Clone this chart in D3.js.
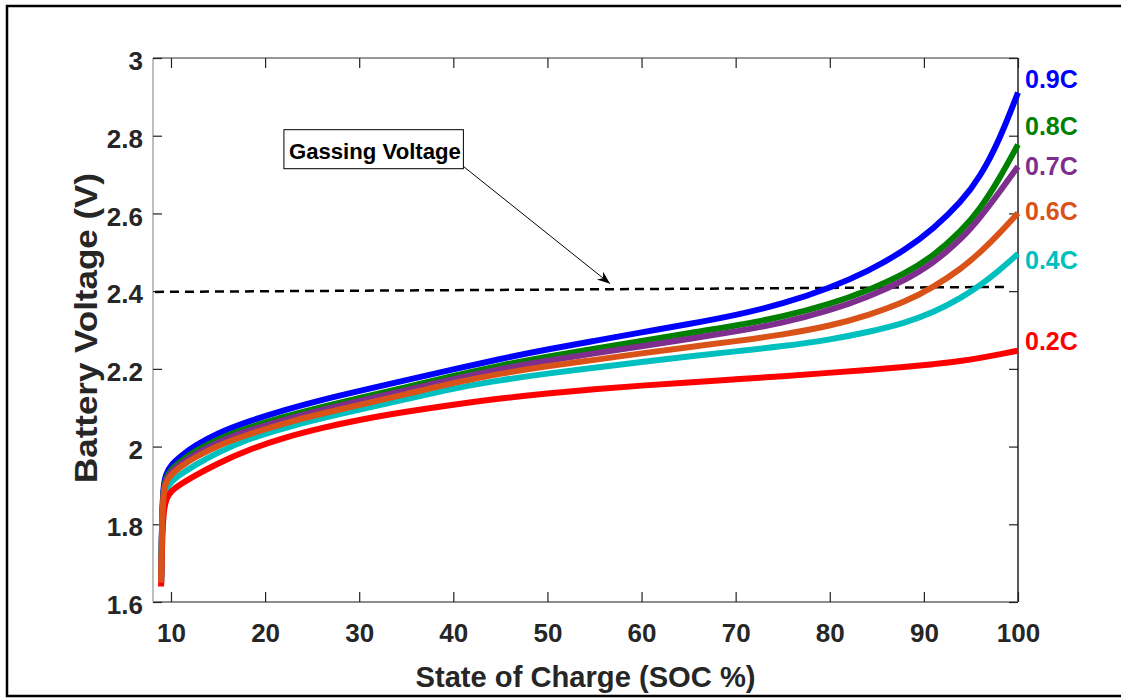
<!DOCTYPE html>
<html>
<head>
<meta charset="utf-8">
<script src="https://cdn.jsdelivr.net/npm/d3@7"></script>
<style>
  body { margin: 0; background: #fff; }
  svg text { font-family: "Liberation Sans", Arial, sans-serif; font-weight: bold; }
</style>
</head>
<body>
<svg id="chart" width="1121" height="698"></svg>
<script>
// state of charge samples shared by all curves
const soc = [8.95, 9.05, 9.2, 9.5, 10, 11, 12.5, 15, 18, 22, 26, 30, 35, 40, 45, 50, 55, 60, 65, 70, 75, 80, 84, 88, 91, 94, 96, 98, 100];

const v09 = [1.65, 1.82, 1.905, 1.93, 1.953, 1.975, 2.002, 2.035, 2.063, 2.094, 2.12, 2.143, 2.171, 2.199, 2.226, 2.25, 2.272, 2.294, 2.315, 2.338, 2.367, 2.408, 2.45, 2.505, 2.56, 2.63, 2.695, 2.787, 2.911];
const v08 = [1.65, 1.81, 1.895, 1.92, 1.941, 1.962, 1.988, 2.02, 2.047, 2.077, 2.102, 2.125, 2.153, 2.182, 2.209, 2.232, 2.252, 2.272, 2.292, 2.311, 2.334, 2.366, 2.401, 2.445, 2.49, 2.555, 2.612, 2.688, 2.777];
const v07 = [1.65, 1.80, 1.89, 1.915, 1.935, 1.955, 1.98, 2.012, 2.04, 2.069, 2.094, 2.117, 2.145, 2.174, 2.2, 2.221, 2.24, 2.258, 2.277, 2.296, 2.318, 2.35, 2.384, 2.428, 2.472, 2.534, 2.59, 2.654, 2.721];
const v06 = [1.65, 1.80, 1.885, 1.91, 1.928, 1.948, 1.972, 2.003, 2.03, 2.06, 2.085, 2.107, 2.135, 2.164, 2.188, 2.207, 2.223, 2.24, 2.256, 2.271, 2.288, 2.31, 2.337, 2.372, 2.41, 2.458, 2.5, 2.548, 2.601];
const v04 = [1.65, 1.79, 1.87, 1.89, 1.91, 1.928, 1.952, 1.985, 2.018, 2.048, 2.073, 2.095, 2.122, 2.15, 2.171, 2.188, 2.203, 2.218, 2.232, 2.245, 2.258, 2.275, 2.294, 2.318, 2.345, 2.383, 2.415, 2.453, 2.496];
const v02 = [1.64, 1.75, 1.835, 1.866, 1.886, 1.903, 1.925, 1.957, 1.99, 2.023, 2.048, 2.069, 2.09, 2.108, 2.124, 2.137, 2.148, 2.157, 2.165, 2.173, 2.181, 2.19, 2.197, 2.205, 2.212, 2.22, 2.228, 2.237, 2.247];

const rates = ['0.9C', '0.8C', '0.7C', '0.6C', '0.4C', '0.2C'];
const rateColors = ['#0000ff', '#008000', '#7e2f8e', '#d95319', '#00bfbf', '#ff0000'];
// where each rate label sits on the voltage axis
const labelV = [2.947, 2.826, 2.721, 2.605, 2.481, 2.271];

const gassingSoc = [8.3, 99.0];
const gassingV = [2.398, 2.411];

const xTicks = [10, 20, 30, 40, 50, 60, 70, 80, 90, 100];
const yTicks = [1.6, 1.8, 2, 2.2, 2.4, 2.6, 2.8, 3];

const svg = d3.select('#chart');
const plot = { left: 153, top: 58, right: 1018, bottom: 602 };

const x = d3.scaleLinear().domain([8.09, 100]).range([plot.left, plot.right]);
const y = d3.scaleLinear().domain([1.6, 3]).range([plot.bottom, plot.top]);

// outer figure frame
svg.append('rect')
  .attr('x', 7).attr('y', 6)
  .attr('width', 1125).attr('height', 690)
  .style('fill', 'none')
  .style('stroke', '#000')
  .style('stroke-width', 2.5);

// box lines
svg.append('line').attr('x1', plot.left).attr('x2', plot.right).attr('y1', plot.top).attr('y2', plot.top)
  .style('stroke', '#333').style('stroke-width', 1.2);
svg.append('line').attr('x1', plot.right).attr('x2', plot.right).attr('y1', plot.top).attr('y2', plot.bottom)
  .style('stroke', '#222').style('stroke-width', 1.5);
svg.append('line').attr('x1', plot.left).attr('x2', plot.right).attr('y1', plot.bottom).attr('y2', plot.bottom)
  .style('stroke', '#666').style('stroke-width', 1.5);
svg.append('line').attr('x1', plot.left).attr('x2', plot.left).attr('y1', plot.top).attr('y2', plot.bottom)
  .style('stroke', '#aaa').style('stroke-width', 1.5);

// axes, ticks pointing inward
const xAxis = svg.append('g').attr('transform', `translate(0,${plot.bottom})`)
  .call(d3.axisBottom(x).tickValues(xTicks).tickSizeInner(-10).tickSizeOuter(0));
const xAxisTop = svg.append('g').attr('transform', `translate(0,${plot.top})`)
  .call(d3.axisTop(x).tickValues(xTicks).tickSizeInner(-10).tickSizeOuter(0).tickFormat(''));
const yAxis = svg.append('g').attr('transform', `translate(${plot.left},0)`)
  .call(d3.axisLeft(y).tickValues(yTicks).tickSizeInner(-9).tickSizeOuter(0).tickFormat(d3.format('~g')));
const yAxisRight = svg.append('g').attr('transform', `translate(${plot.right},0)`)
  .call(d3.axisRight(y).tickValues(yTicks).tickSizeInner(-9).tickSizeOuter(0).tickFormat(''));

[xAxis, xAxisTop, yAxis, yAxisRight].forEach(g => {
  g.select('.domain').remove();
  g.selectAll('.tick line').style('stroke', '#222').style('stroke-width', 1.2);
});

xAxis.selectAll('.tick text')
  .style('font-size', '26px')
  .style('fill', '#262626')
  .attr('dy', null)
  .attr('y', 40);

yAxis.selectAll('.tick text')
  .style('font-size', '26px')
  .style('fill', '#262626')
  .attr('x', -10)
  .attr('dy', '0.45em');

// axis titles
svg.append('text')
  .attr('x', (plot.left + plot.right) / 2)
  .attr('y', 687)
  .attr('text-anchor', 'middle')
  .attr('textLength', 340)
  .attr('lengthAdjust', 'spacingAndGlyphs')
  .style('font-size', '30px')
  .style('fill', '#262626')
  .text('State of Charge (SOC %)');

svg.append('text')
  .attr('transform', `translate(97,${(plot.top + plot.bottom) / 2 - 2}) rotate(-90)`)
  .attr('text-anchor', 'middle')
  .attr('textLength', 310)
  .attr('lengthAdjust', 'spacingAndGlyphs')
  .style('font-size', '32px')
  .style('fill', '#262626')
  .text('Battery Voltage (V)');

// gassing voltage dashed line
const gassing = gassingSoc.map((s, i) => [s, gassingV[i]]);
svg.append('path')
  .datum(gassing)
  .attr('d', d3.line().x(d => x(d[0])).y(d => y(d[1])))
  .style('fill', 'none')
  .style('stroke', '#000')
  .style('stroke-width', 2.5)
  .style('stroke-dasharray', '9,6');

// curves
const series = [v09, v08, v07, v06, v04, v02];
const drawOrder = [0, 1, 2, 4, 5, 3];
const line = d3.line()
  .x(d => x(d[0]))
  .y(d => y(d[1]))
  .curve(d3.curveBasis);

drawOrder.forEach(k => {
  svg.append('path')
    .datum(soc.map((s, i) => [s, series[k][i]]))
    .attr('d', line)
    .style('fill', 'none')
    .style('stroke', rateColors[k])
    .style('stroke-width', 6)
    .style('stroke-linejoin', 'round');
});

// rate labels on the right
rates.forEach((r, i) => {
  svg.append('text')
    .attr('x', plot.right + 7)
    .attr('y', y(labelV[i]))
    .attr('dy', '0.36em')
    .style('font-size', '25px')
    .style('fill', rateColors[i])
    .text(r);
});

// annotation box with arrow
const boxAt = { soc: 22.0, v: 2.8155 };
const arrowFrom = { soc: 41.07, v: 2.721 };
const arrowTo = { soc: 56.66, v: 2.419 };

const note = svg.append('g');
note.append('text')
  .attr('x', x(boxAt.soc) + 5)
  .attr('y', y(boxAt.v) + 29)
  .attr('textLength', 172)
  .attr('lengthAdjust', 'spacingAndGlyphs')
  .style('font-size', '22px')
  .style('fill', '#000')
  .text('Gassing Voltage');
note.insert('rect', 'text')
  .attr('x', x(boxAt.soc))
  .attr('y', y(boxAt.v))
  .attr('width', x(arrowFrom.soc) - x(boxAt.soc))
  .attr('height', 39)
  .style('fill', '#fff')
  .style('stroke', '#000')
  .style('stroke-width', 1);

const ax0 = x(arrowFrom.soc), ay0 = y(arrowFrom.v);
const ax1 = x(arrowTo.soc), ay1 = y(arrowTo.v);
note.append('line')
  .attr('x1', ax0).attr('y1', ay0)
  .attr('x2', ax1).attr('y2', ay1)
  .style('stroke', '#000')
  .style('stroke-width', 1);

const ang = Math.atan2(ay1 - ay0, ax1 - ax0);
const headLen = 13, headW = 5, notch = 9;
const ux = Math.cos(ang), uy = Math.sin(ang);
const pts = [
  [ax1, ay1],
  [ax1 - headLen * ux - headW * uy, ay1 - headLen * uy + headW * ux],
  [ax1 - notch * ux, ay1 - notch * uy],
  [ax1 - headLen * ux + headW * uy, ay1 - headLen * uy - headW * ux]
];
note.append('path')
  .attr('d', 'M' + pts.map(p => p.join(',')).join('L') + 'Z')
  .style('fill', '#000');
</script>
</body>
</html>
